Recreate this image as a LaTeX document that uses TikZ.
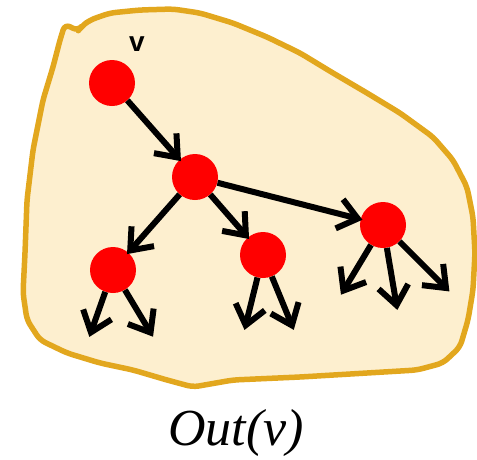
\documentclass[tikz,border=0pt]{standalone}
\usepackage{fontspec}
\setmainfont{Liberation Serif}
\newfontfamily\lsans{Liberation Sans}
\usetikzlibrary{arrows.meta}
\definecolor{blobfill}{HTML}{FDEFCF}
\definecolor{blobline}{HTML}{E2A71E}
\tikzset{
  vtx/.style={circle, fill=red, draw=none, minimum size=46pt, inner sep=0pt},
  arr/.style={line width=6pt, black, -{Straight Barb[length=19pt,width=30pt,line width=6pt]}, shorten >=-2pt},
}
\begin{document}
\begin{tikzpicture}[x=1pt,y=-1pt]
\useasboundingbox (0,0) rectangle (477,459);
\draw[blobline, fill=blobfill, line width=5.5pt, line join=round, rounded corners=6pt]
  (65,24) -- (78,31) -- (82,26) -- (90,20) -- (110,13) -- (140,10) -- (173,9)
  -- (200,13) -- (233,23) -- (267,37) -- (300,53) -- (333,73) -- (367,93)
  -- (400,113) -- (433,137) -- (453,160) -- (467,187) -- (473,217) -- (475,253)
  -- (473,290) -- (468,320) -- (460,347) -- (443,363) -- (417,370) -- (367,373)
  -- (300,377) -- (233,380) -- (193,387) -- (167,380) -- (133,370) -- (100,363)
  -- (67,353) -- (40,340) -- (27,320) -- (23,293) -- (25,253) -- (27,200)
  -- (33,150) -- (43,100) -- (53,67) -- (60,40) -- cycle;
\node[vtx] (v) at (112,83) {};
\node[vtx] (c) at (195,177) {};
\node[vtx] (r) at (383,225) {};
\node[vtx] (l) at (113,270) {};
\node[vtx] (m) at (263,255) {};
\node[font=\lsans\bfseries\fontsize{28}{30}\selectfont] (vl) at (137,44) {v};
\node[font=\itshape\fontsize{52}{56}\selectfont] (lbl) at (236,433) {Out(v)};
\coordinate (l1) at (90,335);
\coordinate (l2) at (152,335);
\coordinate (m1) at (245,328);
\coordinate (m2) at (293,328);
\coordinate (r1) at (342,293);
\coordinate (r2) at (397,308);
\coordinate (r3) at (448,290);
\draw[arr] (v) -- (c);
\draw[arr] (c) -- (l);
\draw[arr] (c) -- (m);
\draw[arr] (c) -- (r);
\draw[arr] (l) -- (l1);
\draw[arr] (l) -- (l2);
\draw[arr] (m) -- (m1);
\draw[arr] (m) -- (m2);
\draw[arr] (r) -- (r1);
\draw[arr] (r) -- (r2);
\draw[arr] (r) -- (r3);
\end{tikzpicture}
\end{document}
